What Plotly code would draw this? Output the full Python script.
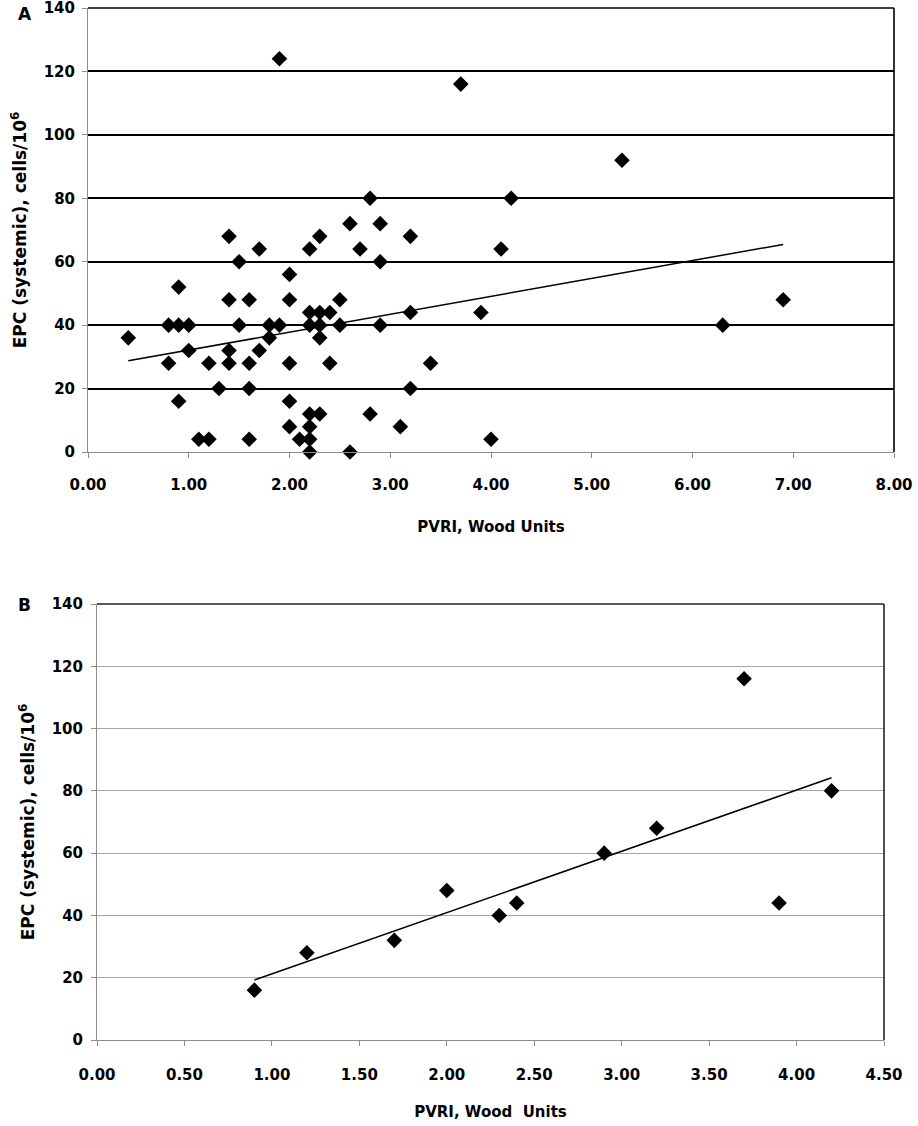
import numpy as np
import plotly.graph_objs as go

# panel A - all patients
pvri_a = [0.4, 0.8, 0.8, 0.9, 0.9, 0.9, 1.0, 1.0, 1.1, 1.2, 1.2, 1.3,
          1.4, 1.4, 1.4, 1.4, 1.5, 1.5, 1.6, 1.6, 1.6, 1.6, 1.7, 1.7,
          1.8, 1.8, 1.9, 1.9, 2.0, 2.0, 2.0, 2.0, 2.0, 2.1,
          2.2, 2.2, 2.2, 2.2, 2.2, 2.2, 2.2, 2.3, 2.3, 2.3, 2.3, 2.3,
          2.4, 2.4, 2.5, 2.5, 2.6, 2.6, 2.7, 2.8, 2.8, 2.9, 2.9, 2.9,
          3.1, 3.2, 3.2, 3.2, 3.4, 3.7, 3.9, 4.0, 4.1, 4.2, 5.3, 6.3, 6.9]
epc_a = [36, 40, 28, 52, 40, 16, 40, 32, 4, 28, 4, 20,
         68, 48, 32, 28, 60, 40, 48, 28, 20, 4, 64, 32,
         40, 36, 124, 40, 56, 48, 28, 16, 8, 4,
         64, 44, 40, 12, 8, 4, 0, 68, 44, 40, 36, 12,
         44, 28, 48, 40, 72, 0, 64, 80, 12, 72, 60, 40,
         8, 68, 44, 20, 28, 116, 44, 4, 64, 80, 92, 40, 48]

# panel B - subgroup
pvri_b = [0.9, 1.2, 1.7, 2.0, 2.3, 2.4, 2.9, 3.2, 3.7, 3.9, 4.2]
epc_b = [16, 28, 32, 48, 40, 44, 60, 68, 116, 44, 80]

y_ticks = [0, 20, 40, 60, 80, 100, 120, 140]
x_ticks_a = [0, 1, 2, 3, 4, 5, 6, 7, 8]
x_ticks_b = [0, 0.5, 1.0, 1.5, 2.0, 2.5, 3.0, 3.5, 4.0, 4.5]

W, H = 918, 1126
FONT = 'DejaVu Sans'
tick_font = dict(family=FONT, size=15, color='black', weight='bold')
xtitle_font = dict(family=FONT, size=15, color='black', weight='bold')
ytitle_font = dict(family=FONT, size=17, color='black', weight='bold')


def trend(x, y):
    # linear fit, drawn over the range of the data
    k, b = np.polyfit(x, y, 1)
    xs = np.array([min(x), max(x)])
    return xs, k * xs + b


def px(v, size):
    return v / size


tx_a, ty_a = trend(pvri_a, epc_a)
tx_b, ty_b = trend(pvri_b, epc_b)

marker = dict(symbol='diamond', size=12, color='black')

traces = [
    go.Scatter(x=pvri_a, y=epc_a, mode='markers', marker=marker,
               xaxis='x', yaxis='y', cliponaxis=False),
    go.Scatter(x=tx_a, y=ty_a, mode='lines', line=dict(color='black', width=1.5),
               xaxis='x', yaxis='y'),
    go.Scatter(x=pvri_b, y=epc_b, mode='markers', marker=marker,
               xaxis='x2', yaxis='y2', cliponaxis=False),
    go.Scatter(x=tx_b, y=ty_b, mode='lines', line=dict(color='black', width=1.5),
               xaxis='x2', yaxis='y2'),
]

axis = dict(
    showline=True,
    linecolor='#8c8c8c',
    linewidth=1,
    zeroline=False,
    ticks='outside',
    ticklen=5,
    tickcolor='#8c8c8c',
    tickfont=tick_font,
    mirror=False,
    automargin=False,
    ticklabeloverflow='allow',
)

ytitle = 'EPC (systemic), cells/10<sup>6</sup>'

layout = dict(
    width=W,
    height=H,
    autosize=False,
    showlegend=False,
    paper_bgcolor='white',
    plot_bgcolor='white',
    margin=dict(l=0, r=0, t=0, b=0),
    xaxis=dict(axis, **dict(domain=[px(88, W), px(894, W)], anchor='y',
                            range=[0, 8], tickvals=x_ticks_a, tickformat='.2f',
                            showgrid=False, ticklabelstandoff=14,
                            title=dict(text='PVRI, Wood Units', font=xtitle_font, standoff=28))),
    yaxis=dict(axis, **dict(domain=[1 - px(452, H), 1 - px(8, H)], anchor='x',
                            range=[0, 140], tickvals=y_ticks,
                            showgrid=True, gridcolor='black', gridwidth=1.6,
                            ticklabelstandoff=4,
                            title=dict(text=ytitle, font=ytitle_font, standoff=12))),
    xaxis2=dict(axis, **dict(domain=[px(97, W), px(884, W)], anchor='y2',
                             range=[0, 4.5], tickvals=x_ticks_b, tickformat='.2f',
                             showgrid=False, ticklabelstandoff=16,
                             title=dict(text='PVRI, Wood\u00a0 Units', font=xtitle_font,
                                        standoff=23))),
    yaxis2=dict(axis, **dict(domain=[1 - px(1040, H), 1 - px(604, H)], anchor='x2',
                             range=[0, 140], tickvals=y_ticks,
                             showgrid=True, gridcolor='#a6a6a6', gridwidth=1,
                             ticklabelstandoff=5,
                             title=dict(text=ytitle, font=ytitle_font, standoff=12))),
    shapes=[
        # plot area border, top and right
        dict(type='line', xref='x domain', yref='y domain', x0=0, x1=1, y0=1, y1=1,
             line=dict(color='black', width=1.6)),
        dict(type='line', xref='x domain', yref='y domain', x0=1, x1=1, y0=0, y1=1,
             line=dict(color='black', width=1.6)),
        dict(type='line', xref='x2 domain', yref='y2 domain', x0=0, x1=1, y0=1, y1=1,
             line=dict(color='#222222', width=1.6)),
        dict(type='line', xref='x2 domain', yref='y2 domain', x0=1, x1=1, y0=0, y1=1,
             line=dict(color='#222222', width=1.6)),
    ],
    annotations=[
        dict(text='A', x=px(16, W), y=1 - px(14, H), xref='paper', yref='paper',
             yanchor='middle', showarrow=False,
             font=dict(family=FONT, size=17, color='black', weight='bold')),
        dict(text='B', x=px(16, W), y=1 - px(605, H), xref='paper', yref='paper',
             yanchor='middle', showarrow=False,
             font=dict(family=FONT, size=17, color='black', weight='bold')),
    ],
)

fig = go.Figure(data=traces, layout=layout)
# page body has a default 8px margin; drop it so the figure sits at 0,0
fig.write_html('out.html', config=dict(displayModeBar=False),
               post_script="document.body.style.margin='0';")
